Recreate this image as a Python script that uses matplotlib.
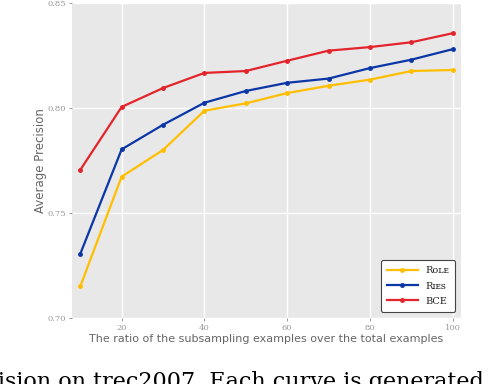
import matplotlib
matplotlib.use("Agg")
import matplotlib.pyplot as plt

# subsampling ratio (%)
ratios = [10, 20, 30, 40, 50, 60, 70, 80, 90, 100]

# average precision for each method
role = [0.715, 0.7673, 0.780, 0.7987, 0.8022, 0.8071, 0.8106, 0.8135, 0.8176, 0.8181]
ries = [0.7305, 0.7803, 0.792, 0.8025, 0.8081, 0.812, 0.814, 0.819, 0.823, 0.828]
bce = [0.7705, 0.8005, 0.8095, 0.8167, 0.8176, 0.8225, 0.8273, 0.829, 0.8313, 0.8356]

labels = ["R\u1d0f\u029f\u1d07", "R\u026a\u1d07\ua731", "BCE"]
colors = ["#FFBF00", "#0A36A6", "#E3242B"]

fig = plt.figure(figsize=(4.94, 3.84), dpi=100)
ax = fig.add_axes([0.1457, 0.1719, 0.7874, 0.8203])
ax.set_facecolor("#E8E8E8")

for ys, lab, c in zip([role, ries, bce], labels, colors):
    ax.plot(ratios, ys, color=c, lw=1.6, marker="o", ms=2.5, label=lab)

ax.set_xlim(8, 102)
ax.set_ylim(0.70, 0.85)
ax.set_xticks([20, 40, 60, 80, 100])
ax.set_yticks([0.70, 0.75, 0.80, 0.85])
ax.set_yticklabels(["0.70", "0.75", "0.80", "0.85"])
ax.grid(True, color="white", lw=1.0)
ax.set_axisbelow(True)
for s in ax.spines.values():
    s.set_visible(False)
ax.tick_params(axis="both", length=2.5, width=0.6, color="#888888",
               labelsize=6, labelcolor="#999999", pad=2)
for t in ax.get_xticklabels() + ax.get_yticklabels():
    t.set_family("DejaVu Serif")

ax.set_xlabel("The ratio of the subsampling examples over the total examples",
              fontsize=8, color="#666666", labelpad=1)
ax.set_ylabel("Average Precision", fontsize=8.5, color="#666666", labelpad=0)

leg = ax.legend(loc="lower right", fontsize=7, frameon=True, fancybox=True,
                edgecolor="#444444", facecolor="white", framealpha=1,
                handlelength=3.2, borderpad=0.6, labelspacing=0.65,
                borderaxespad=0, bbox_to_anchor=(0.985, 0.02))
leg.get_frame().set_linewidth(0.8)
for t in leg.get_texts():
    t.set_family(["DejaVu Serif", "DejaVu Sans"])
    t.set_color("#222222")

# caption fragment from the page below the figure
fig.text(-0.005, -0.01, "ision on trec2007. Each curve is generated",
         fontsize=16, family="DejaVu Serif", color="black", ha="left", va="baseline")

fig.savefig("out.png", dpi=100)
